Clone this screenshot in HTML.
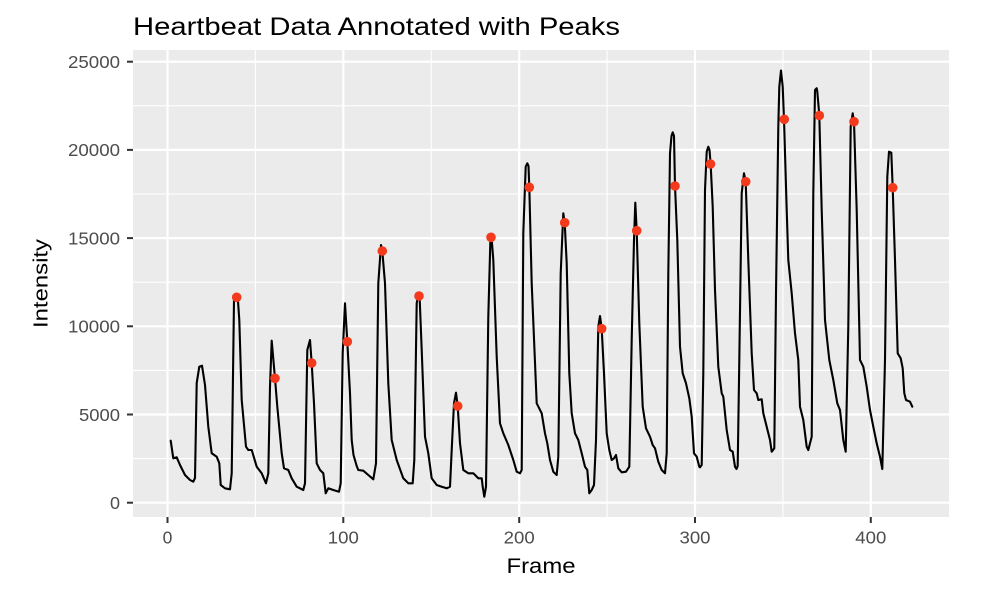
<!DOCTYPE html>
<html>
<head>
<meta charset="utf-8">
<style>
  html, body { margin: 0; padding: 0; background: #ffffff; }
  svg { display: block; }
  text { font-family: "Liberation Sans", "DejaVu Sans", sans-serif; }
</style>
</head>
<body>
<svg width="1000" height="597" viewBox="0 0 1000 597" xmlns="http://www.w3.org/2000/svg">
  <rect x="0" y="0" width="1000" height="597" fill="#ffffff"/>
  <!-- panel -->
  <rect x="133" y="50" width="816" height="467" fill="#EBEBEB"/>
  <!-- minor grid -->
  <g stroke="#ffffff" stroke-width="1.1">
    <line x1="255.4" y1="50" x2="255.4" y2="517"/>
    <line x1="431.2" y1="50" x2="431.2" y2="517"/>
    <line x1="607.1" y1="50" x2="607.1" y2="517"/>
    <line x1="782.9" y1="50" x2="782.9" y2="517"/>
    <line x1="133" y1="458.6" x2="949" y2="458.6"/>
    <line x1="133" y1="370.4" x2="949" y2="370.4"/>
    <line x1="133" y1="282.2" x2="949" y2="282.2"/>
    <line x1="133" y1="194.0" x2="949" y2="194.0"/>
    <line x1="133" y1="105.8" x2="949" y2="105.8"/>
  </g>
  <!-- major grid -->
  <g stroke="#ffffff" stroke-width="2.2">
    <line x1="167.5" y1="50" x2="167.5" y2="517"/>
    <line x1="343.3" y1="50" x2="343.3" y2="517"/>
    <line x1="519.2" y1="50" x2="519.2" y2="517"/>
    <line x1="695.0" y1="50" x2="695.0" y2="517"/>
    <line x1="870.8" y1="50" x2="870.8" y2="517"/>
    <line x1="133" y1="502.7" x2="949" y2="502.7"/>
    <line x1="133" y1="414.5" x2="949" y2="414.5"/>
    <line x1="133" y1="326.3" x2="949" y2="326.3"/>
    <line x1="133" y1="238.1" x2="949" y2="238.1"/>
    <line x1="133" y1="149.9" x2="949" y2="149.9"/>
    <line x1="133" y1="61.7" x2="949" y2="61.7"/>
  </g>
  <!-- ticks -->
  <g stroke="#333333" stroke-width="2">
    <line x1="127" y1="502.7" x2="133" y2="502.7"/>
    <line x1="127" y1="414.5" x2="133" y2="414.5"/>
    <line x1="127" y1="326.3" x2="133" y2="326.3"/>
    <line x1="127" y1="238.1" x2="133" y2="238.1"/>
    <line x1="127" y1="149.9" x2="133" y2="149.9"/>
    <line x1="127" y1="61.7" x2="133" y2="61.7"/>
    <line x1="167.5" y1="517" x2="167.5" y2="523"/>
    <line x1="343.3" y1="517" x2="343.3" y2="523"/>
    <line x1="519.2" y1="517" x2="519.2" y2="523"/>
    <line x1="695.0" y1="517" x2="695.0" y2="523"/>
    <line x1="870.8" y1="517" x2="870.8" y2="523"/>
  </g>
  <!-- y tick labels -->
  <g fill="#4D4D4D" font-size="17.5" text-anchor="end">
    <text x="120" y="509" textLength="10" lengthAdjust="spacingAndGlyphs">0</text>
    <text x="120" y="420.8" textLength="41" lengthAdjust="spacingAndGlyphs">5000</text>
    <text x="120" y="332.6" textLength="52" lengthAdjust="spacingAndGlyphs">10000</text>
    <text x="120" y="244.4" textLength="52" lengthAdjust="spacingAndGlyphs">15000</text>
    <text x="120" y="156.2" textLength="52" lengthAdjust="spacingAndGlyphs">20000</text>
    <text x="120" y="68.0" textLength="52" lengthAdjust="spacingAndGlyphs">25000</text>
  </g>
  <!-- x tick labels -->
  <g fill="#4D4D4D" font-size="17.5" text-anchor="middle">
    <text x="167.5" y="543.3">0</text>
    <text x="343.3" y="543.3" textLength="31" lengthAdjust="spacingAndGlyphs">100</text>
    <text x="519.2" y="543.3" textLength="31" lengthAdjust="spacingAndGlyphs">200</text>
    <text x="695.0" y="543.3" textLength="31" lengthAdjust="spacingAndGlyphs">300</text>
    <text x="870.8" y="543.3" textLength="31" lengthAdjust="spacingAndGlyphs">400</text>
  </g>
  <!-- axis titles -->
  <text x="541" y="573" font-size="21" text-anchor="middle" fill="#000" textLength="69" lengthAdjust="spacingAndGlyphs">Frame</text>
  <text transform="translate(47.5,283.5) rotate(-90)" font-size="20.5" text-anchor="middle" fill="#000" textLength="89" lengthAdjust="spacingAndGlyphs">Intensity</text>
  <!-- title -->
  <text x="133" y="35" font-size="25" fill="#000" textLength="487" lengthAdjust="spacingAndGlyphs">Heartbeat Data Annotated with Peaks</text>

  <!-- data line -->
  <polyline fill="none" stroke="#000000" stroke-width="2.1" stroke-linejoin="round" stroke-linecap="round" points="
170.7,440.7 173.3,458.3 176.7,457.3 180,465 185,475 190,480 193.3,481.7 195,478 196.7,383 199.3,366.7 202,365.7 205,385 208.3,426.7 211.7,453.3 216.7,456.7 219.3,463.3 220.7,485 225,488.3 230,489.3 231.7,473.3 234,300 235.5,294 237.5,294 239.3,320 241.7,400 246,446.7 248.3,450 251.7,450 256.7,466.7 261.7,473.3 266,483.3 268.3,473.3 270,386.7 271.7,340.7 275,378.3 277.3,406.7 281.7,453.3 284,468.3 288.3,470 291.7,478.3 296.7,486.7 303.3,490 305,483.3 307.3,350 310,340 311.7,363.3 314,403.3 316.7,463.3 320,470 323.3,473.3 325.7,493.3 328.3,488.3 333.3,490 339,491.7 340.7,483.3 342.7,353.3 345,303.3 347.3,341.7 350,393.3 351.7,440 353.5,455 356.7,466 358.3,470 363.3,470.7 368.3,475 373.3,479.3 376,463.3 378.3,283.3 381,245 382.3,251 385,283.3 388.3,383.3 391.7,440 396.7,460 403.3,478.3 408.3,483.3 412.7,483.3 414.3,460 416.7,303.3 418.5,293 419.5,294 421.7,350 425,436.7 428.3,453.3 431.7,478.3 436.7,485 441.7,486.7 446.7,488.3 450,486.7 451.7,450 454,403.3 456,392.7 457.7,406 460,443.3 463.3,470 468.3,473.3 473.3,473.3 478.3,478.3 481.7,478.3 482.7,486.7 484.3,496.7 486,486.7 488.3,316.7 490.5,236 491.5,237 493.3,260 496.7,356.7 500,423.3 503.3,433.3 508.3,445 513.3,460 516.7,471.7 520,473.3 521.7,470 523.3,233.3 525.7,166.7 527.3,163.3 528.5,166 529.3,187.3 531.7,283.3 536.7,403.3 541.7,413.3 545,433.3 547.3,443.3 550,460 553.3,471.7 556.7,475 558.3,456.7 560.7,273.3 563.3,213.3 564.7,222.7 566.7,263.3 569.3,373.3 571.7,413.3 575,433.3 578.3,440 581.7,453.3 585,466.7 587.3,470 589.3,493.3 591.7,490 594,485 596,440 598.3,326.7 600,316 601.7,328.7 604,373.3 606.7,433.3 609.3,450 611.7,460 614,458.3 616,455 618.3,468.3 621.7,472.3 626,471.7 629.3,466.7 631.7,340 634,240 635.3,202.7 636.7,230.7 639.3,323.3 642.7,406.7 646,428.3 650,436.7 652.7,445 655,448.3 658.3,461.7 661.7,470 665,473.3 666.7,453.3 668.3,273.3 670,153.3 671.5,136 672.7,132.3 674,136 675,186 677.3,240 680,346.7 682.7,373.3 686,383.3 689.3,398.3 691.7,416.7 694,453.3 696.7,456.7 699.3,466.7 700,467.3 701.7,465 703.3,373.3 705,190 706.7,151.7 708.3,146.7 709.5,150 710.7,165 712.7,206.7 715,290 718.3,366.7 721.7,393.3 723.3,396.7 726.7,430 730,450 732.7,451.7 735,466.7 736.5,469 737.7,466 739.3,360 741.7,193.3 744,173.3 745.7,181.7 748.3,260 751.7,353.3 754,390 756.7,393.3 758.3,400 761.7,399.3 763.3,413.3 766.7,426.7 770,440 771.7,451.7 774.3,448.3 776,293.3 778.3,126.7 779.3,86.7 781,70.5 782.7,86.7 784,119.3 786.7,210 788.3,260 791.7,293.3 795,333.3 798.3,360 800,406.7 803.3,420 806.7,446.7 808.3,450 811.7,436.7 813.3,193.3 815,90 816.7,88.3 817.3,91.7 819.3,115 821.7,210 825,320 829.3,360 833.3,380 837.3,403.3 840,410 843.3,440 845.7,451.7 848.3,326.7 850.7,126.7 852.7,113.3 854,121.7 856.7,210 860,360 863.3,366.7 866.7,386.7 870,410 873.3,426.7 876.7,443.3 880,456.7 882.3,469 885,360 887.3,176.7 889,151.7 891.3,152.7 892.7,187.7 895,260 897.7,353.3 900.7,358.3 902.7,368.3 904.3,393.3 906,400 910,401.7 912.3,406.7"/>

  <!-- peak points -->
  <g fill="#F33A1C">
    <circle cx="236.7" cy="297.3" r="4.8"/>
    <circle cx="275" cy="378.3" r="4.8"/>
    <circle cx="311.7" cy="363" r="4.8"/>
    <circle cx="347.3" cy="341.7" r="4.8"/>
    <circle cx="382.3" cy="251" r="4.8"/>
    <circle cx="419" cy="296" r="4.8"/>
    <circle cx="457.7" cy="406" r="4.8"/>
    <circle cx="491" cy="237.3" r="4.8"/>
    <circle cx="529.3" cy="187.3" r="4.8"/>
    <circle cx="564.7" cy="222.7" r="4.8"/>
    <circle cx="601.7" cy="328.7" r="4.8"/>
    <circle cx="636.7" cy="230.7" r="4.8"/>
    <circle cx="675" cy="186" r="4.8"/>
    <circle cx="710.5" cy="164" r="4.8"/>
    <circle cx="745.7" cy="181.7" r="4.8"/>
    <circle cx="784.3" cy="119.3" r="4.8"/>
    <circle cx="819.3" cy="115.5" r="4.8"/>
    <circle cx="854" cy="121.7" r="4.8"/>
    <circle cx="892.7" cy="187.7" r="4.8"/>
  </g>
</svg>
</body>
</html>
